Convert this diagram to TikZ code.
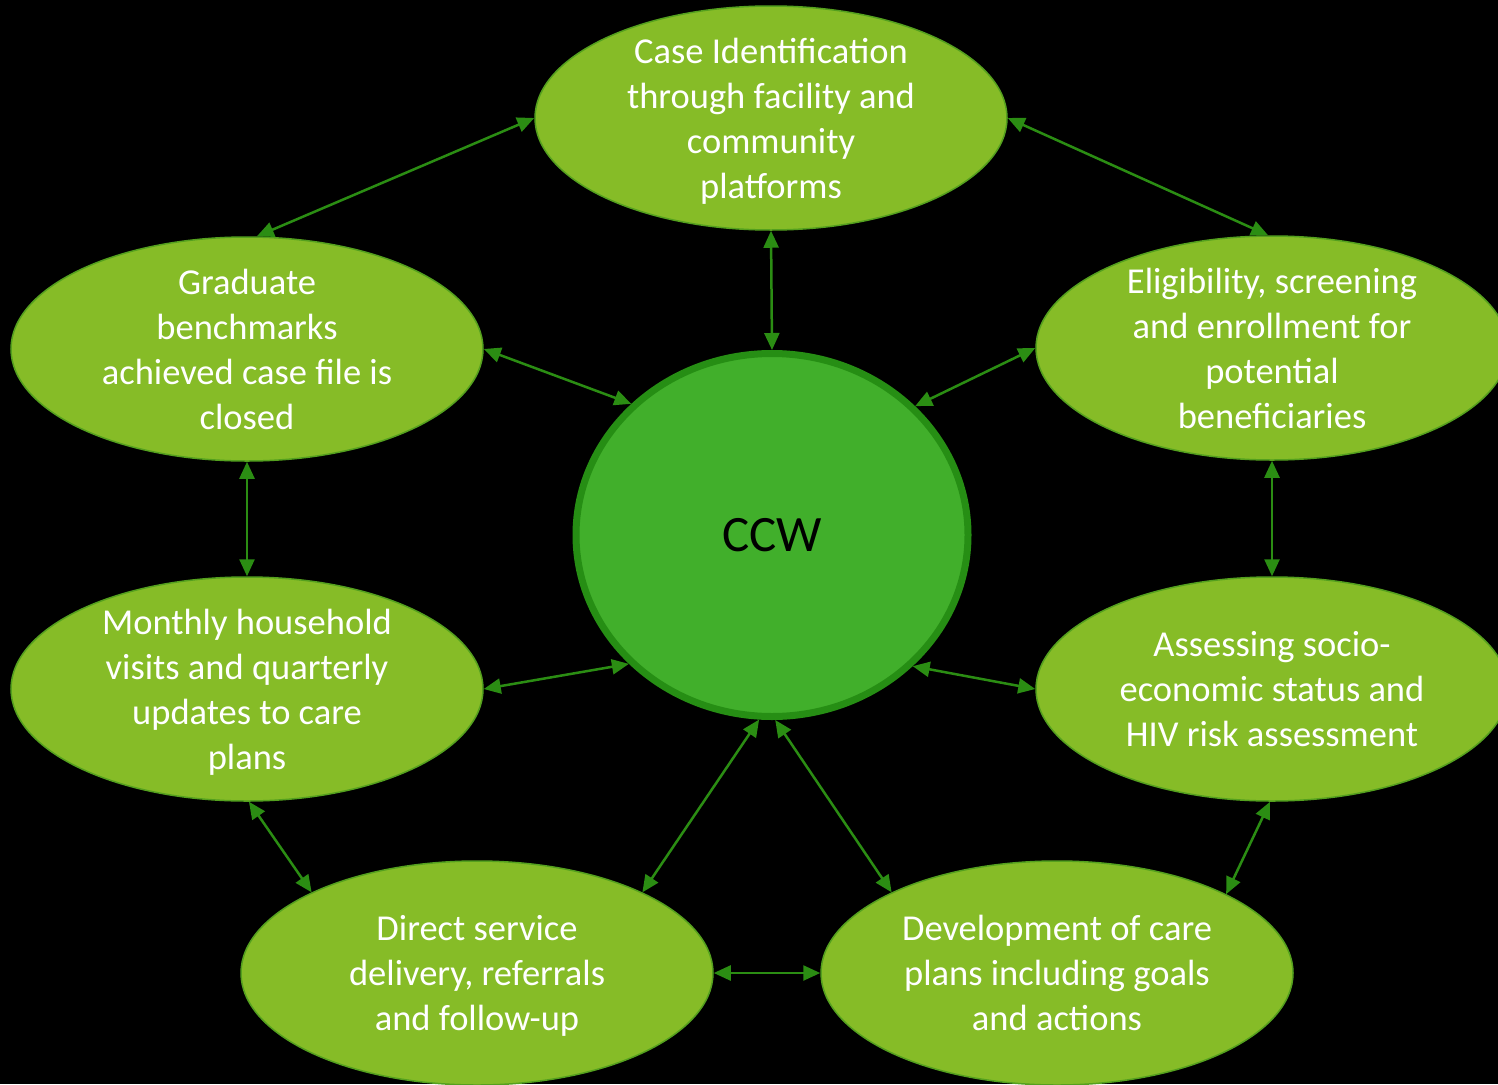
\documentclass[tikz,border=0pt]{standalone}
\usepackage{fontspec}
\setmainfont{Carlito}
\usetikzlibrary{shapes.geometric,arrows.meta}
\definecolor{ellfill}{RGB}{134,188,39}
\definecolor{elldraw}{RGB}{84,160,30}
\definecolor{ccwfill}{RGB}{65,175,43}
\definecolor{ccwdraw}{RGB}{38,142,20}
\definecolor{arrowc}{RGB}{43,141,19}
\tikzset{
  stage/.style={shape=ellipse, fill=ellfill, draw=elldraw, line width=1.5pt,
    minimum width=472pt, minimum height=224pt, inner xsep=0pt, inner ysep=-25pt,
    text width=320pt, align=flush center, text=white,
    execute at begin node={\rule{0pt}{35.5pt}},
    execute at end node={\rule[-10pt]{0pt}{10pt}},
    font=\fontsize{36.5}{45}\selectfont},
  hub/.style={shape=ellipse, fill=ccwfill, draw=ccwdraw, line width=7pt,
    minimum width=392pt, minimum height=363pt, inner sep=0pt, text=black,
    font=\fontsize{51}{60}\selectfont},
  link/.style={draw=arrowc, line width=2.5pt,
    {Triangle[length=17pt,width=15pt]}-{Triangle[length=17pt,width=15pt]}}
}
\begin{document}
\begin{tikzpicture}[x=1pt,y=-1pt]
\fill[black] (0,0) rectangle (1498,1084);
\useasboundingbox (0,0) rectangle (1498,1084);

\node[hub] (C) at (772,535) {CCW};
\node[stage] (T)  at (771,118)  {Case Identification\\through facility and\\community\\platforms};
\node[stage] (TL) at (247,349)  {Graduate\\benchmarks\\achieved case file is\\closed};
\node[stage] (TR) at (1272,348) {Eligibility, screening\\and enrollment for\\potential\\beneficiaries};
\node[stage] (ML) at (247,689)  {Monthly household\\visits and quarterly\\updates to care\\plans};
\node[stage] (MR) at (1272,689) {Assessing socio-\\economic status and\\HIV risk assessment};
\node[stage] (BL) at (477,973)  {Direct service\\delivery, referrals\\and follow-up};
\node[stage] (BR) at (1057,973) {Development of care\\plans including goals\\and actions};

\draw[link] (TL.85.5) -- (T.180);
\draw[link] (T.-0.5) -- (TR.92);
\draw[link] (T.270) -- (C.90);
\draw[link] (TL.0) -- (C.137.3);
\draw[link] (TR.180) -- (C.42.7);
\draw[link] (TL.270) -- (ML.90);
\draw[link] (TR.270) -- (MR.90);
\draw[link] (ML.0) -- (C.222.2);
\draw[link] (MR.180) -- (C.317.8);
\draw[link] (ML.271) -- (BL.154.7);
\draw[link] (MR.269) -- (BR.25.3);
\draw[link] (BL.26.4) -- (C.266.3);
\draw[link] (BR.154.8) -- (C.271);
\draw[link] (BL.0) -- (BR.180);
\end{tikzpicture}
\end{document}
